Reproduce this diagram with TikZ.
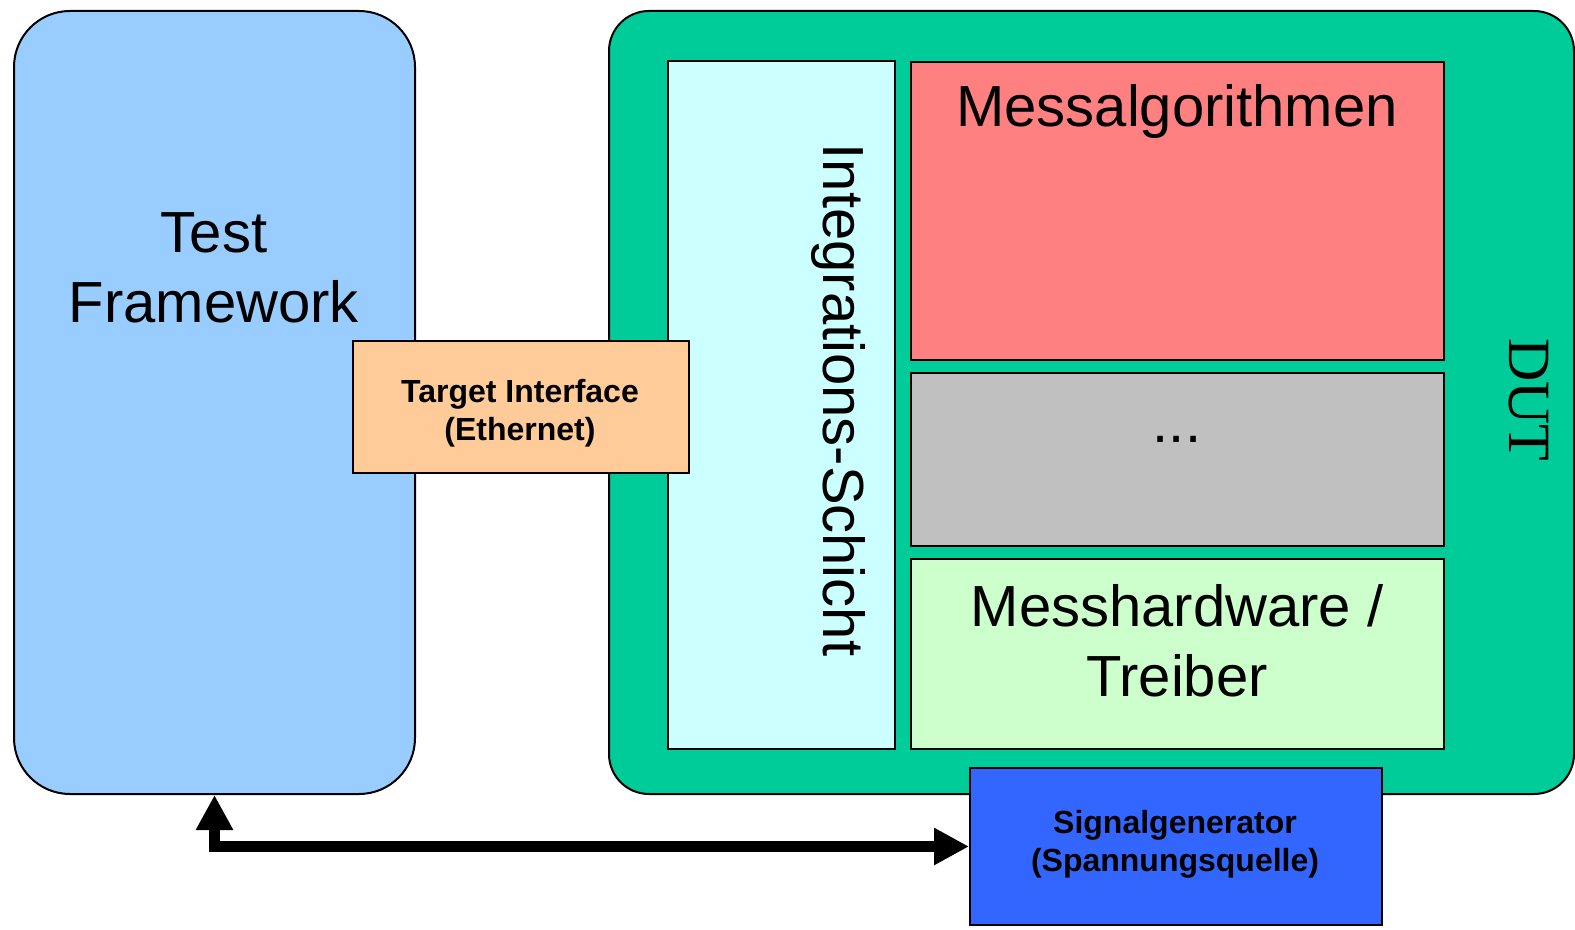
\documentclass[tikz,border=0pt]{standalone}
\usepackage{fontspec}
\setmainfont{Liberation Sans}
\newfontfamily\dutfont{Liberation Serif}
\usetikzlibrary{arrows.meta}

\definecolor{tfblue}{HTML}{99CCFF}
\definecolor{dutgreen}{HTML}{00CC99}
\definecolor{integcyan}{HTML}{CCFFFF}
\definecolor{algred}{HTML}{FF8080}
\definecolor{dotsgray}{HTML}{C0C0C0}
\definecolor{hwgreen}{HTML}{CCFFCC}
\definecolor{ifaceorange}{HTML}{FFCC99}
\definecolor{sigblue}{HTML}{3366FF}

\tikzset{
  box/.style={draw, line width=1pt, inner sep=0pt, anchor=north west},
  boxsize/.style 2 args={minimum width={#1*0.5pt}, minimum height={#2*0.5pt}},
  bigtext/.style={font=\fontsize{29}{35}\selectfont, align=center},
  smalltext/.style={font=\bfseries\fontsize{16}{19}\selectfont, align=center},
  link/.style={line width=5.5pt,
    {Triangle[length=17.5pt,width=17.5pt]}-{Triangle[length=17.5pt,width=17.5pt]}}
}

\begin{document}
\begin{tikzpicture}[x=0.5pt,y=-0.5pt]
\useasboundingbox (0,0) rectangle (1575,930);
% host side and device under test
\node[box, fill=tfblue, boxsize={401}{783}, rounded corners=28pt] (tf) at (13,10) {};
\node[box, fill=dutgreen, boxsize={965}{783}, rounded corners=20pt] (dut) at (608,10) {};
% software layers inside the DUT
\node[box, fill=integcyan, boxsize={227}{688}] (integ) at (667,60) {};
\node[box, fill=algred, boxsize={533}{298}] (alg) at (910,61) {};
\node[box, fill=dotsgray, boxsize={533}{173}] (dots) at (910,372) {};
\node[box, fill=hwgreen, boxsize={533}{190}] (hw) at (910,558) {};
% interface and signal source
\node[box, fill=ifaceorange, boxsize={336}{132}] (iface) at (352,340) {};
\node[box, fill=sigblue, boxsize={412}{157}] (sig) at (969,767) {};
% labels
\node[bigtext] (tflabel) at (214,268) {Test\\Framework};
\node[bigtext, anchor=base] (alglabel) at (1177,127) {Messalgorithmen};
\node[bigtext, anchor=base] (dotslabel) at (1177,443) {...};
\node[bigtext] (hwlabel) at (1177,641) {Messhardware /\\Treiber};
\node[bigtext, rotate=-90, anchor=base] (integlabel) at (823,400) {Integrations-Schicht};
\node[font=\dutfont\fontsize{30}{36}\selectfont, rotate=-90, anchor=base] (dutlabel) at (1509,400) {DUT};
\node[smalltext] (ifacelabel) at (520,413) {Target Interface\\(Ethernet)};
\node[smalltext] (siglabel) at (1175,844) {Signalgenerator\\(Spannungsquelle)};
% control link framework <-> generator
\draw[link] (tf.south) -- (tf.south |- sig.west) -- (sig.west);
\end{tikzpicture}
\end{document}
